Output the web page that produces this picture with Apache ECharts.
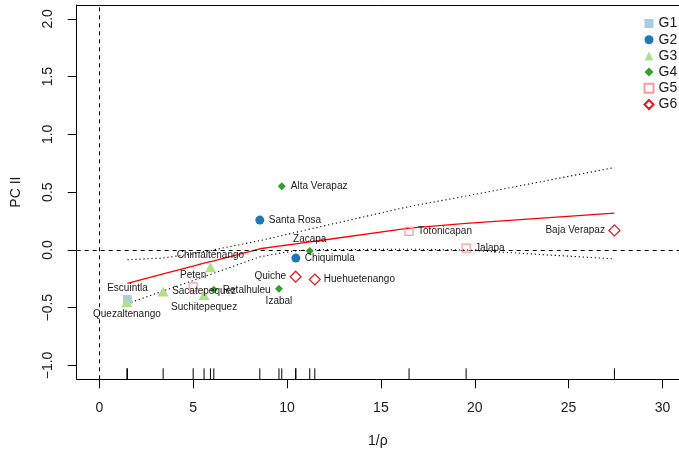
<!DOCTYPE html>
<html>
<head>
<meta charset="utf-8">
<script src="https://cdn.jsdelivr.net/npm/echarts@6/dist/echarts.min.js"></script>
<style>
  html, body { margin: 0; padding: 0; background: #fff; }
  #chart { width: 679px; height: 455px; }
</style>
</head>
<body>
<div id="chart"></div>
<script>
// Departments, their 1/rho and PC II scores, group membership and label side
const departments = ['Escuintla', 'Quezaltenango', 'Sacatepequez', 'Peten', 'Suchitepequez',
  'Chimaltenango', 'Retalhuleu', 'Santa Rosa', 'Izabal', 'Alta Verapaz', 'Chiquimula',
  'Quiche', 'Zacapa', 'Huehuetenango', 'Totonicapan', 'Jalapa', 'Baja Verapaz'];
const invRho = [1.50, 1.47, 3.40, 5.00, 5.58, 5.92, 6.10, 8.55, 9.57, 9.72, 10.47,
  10.46, 11.21, 11.48, 16.50, 19.54, 27.44];
const pc2 = [-0.43, -0.45, -0.36, -0.32, -0.39, -0.15, -0.345, 0.258, -0.337, 0.551, -0.071,
  -0.232, -0.010, -0.256, 0.160, 0.016, 0.169];
const groupOf = ['G1', 'G3', 'G3', 'G5', 'G3', 'G3', 'G4', 'G2', 'G4', 'G4', 'G2',
  'G6', 'G4', 'G6', 'G5', 'G5', 'G6'];
const labelSide = ['top', 'bottom', 'right', 'top', 'bottom', 'top', 'right', 'right', 'bottom',
  'right', 'right', 'left', 'top', 'right', 'right', 'right', 'left'];
const groupNames = ['G1', 'G2', 'G3', 'G4', 'G5', 'G6'];

// Smoothed trend and its upper / lower band, read at the distinct 1/rho values
const fitX = [1.5, 3.4, 5.0, 5.58, 5.92, 6.1, 8.55, 9.57, 9.72, 10.47, 11.21, 11.48, 16.5, 19.54, 27.44];
const fitY = [-0.290, -0.208, -0.140, -0.115, -0.101, -0.094, 0.010, 0.033, 0.036, 0.053, 0.069, 0.075, 0.188, 0.229, 0.319];
const upperY = [-0.085, -0.070, -0.034, -0.015, -0.005, 0.001, 0.080, 0.119, 0.124, 0.152, 0.180, 0.190, 0.375, 0.466, 0.713];
const lowerY = [-0.465, -0.355, -0.265, -0.230, -0.212, -0.202, -0.060, -0.030, -0.026, -0.008, 0.000, 0.002, 0.006, -0.001, -0.078];

const xTicks = [0, 5, 10, 15, 20, 25, 30];
const yTicks = [-1.0, -0.5, 0.0, 0.5, 1.0, 1.5, 2.0];

const FONT = '"Liberation Sans", Arial, Helvetica, sans-serif';
const X_MIN = -1.204, X_MAX = 30.88, Y_MIN = -1.12, Y_MAX = 2.12;

const groupStyle = {
  G1: { symbol: 'rect', size: 9, color: '#A6CEE3', filled: true },
  G2: { symbol: 'circle', size: 9, color: '#1F78B4', filled: true },
  G3: { symbol: 'triangle', size: [11, 10], color: '#B2DF8A', filled: true },
  G4: { symbol: 'diamond', size: 8, color: '#33A02C', filled: true },
  G5: { symbol: 'rect', size: 8, color: '#FB9A99', filled: false },
  G6: { symbol: 'diamond', size: 11, color: '#E31A1C', filled: false }
};

function labelFor(side) {
  const offsets = { top: [0, -11.5], bottom: [0, 12.5], left: [-9.5, 0], right: [9, 0] };
  return {
    show: true,
    position: 'inside',
    align: side === 'left' ? 'right' : (side === 'right' ? 'left' : 'center'),
    verticalAlign: 'middle',
    offset: offsets[side],
    formatter: '{b}',
    color: '#1a1a1a',
    fontSize: 10,
    fontFamily: FONT
  };
}

const pointSeries = groupNames.map(g => {
  const st = groupStyle[g];
  const data = [];
  departments.forEach((name, i) => {
    if (groupOf[i] === g) {
      data.push({ name: name, value: [invRho[i], pc2[i]], label: labelFor(labelSide[i]) });
    }
  });
  return {
    name: g,
    type: 'scatter',
    symbol: st.symbol,
    symbolSize: st.size,
    itemStyle: st.filled
      ? { color: st.color, opacity: 1 }
      : { color: 'rgba(255,255,255,0)', borderColor: st.color, borderWidth: 1.2, opacity: 1 },
    data: data,
    z: 5,
    silent: true
  };
});

const fmtY = v => (v < 0 ? '\u2212' : '') + Math.abs(v).toFixed(1);

const option = {
  animation: false,
  backgroundColor: '#fff',
  grid: { left: 76.7, right: 0, top: 5, bottom: 75.7 },
  legend: {
    orient: 'vertical',
    left: 638.5,
    top: 11.5,
    itemWidth: 9,
    itemHeight: 9,
    itemGap: 2.2,
    textStyle: { fontSize: 14, fontFamily: FONT, color: '#1a1a1a' },
    data: groupNames,
    selectedMode: false
  },
  xAxis: [{
    type: 'value', min: X_MIN, max: X_MAX, position: 'bottom',
    axisLine: { show: true, onZero: false, lineStyle: { color: '#000', width: 1 } },
    axisTick: { show: true, length: 9, customValues: xTicks, lineStyle: { color: '#000', width: 1 } },
    axisLabel: { customValues: xTicks, margin: 22, fontSize: 14, fontFamily: FONT, color: '#1a1a1a' },
    splitLine: { show: false },
    name: '1/\u03c1', nameLocation: 'middle', nameGap: 55,
    nameTextStyle: { fontSize: 14, fontFamily: FONT, color: '#1a1a1a' }
  }, {
    type: 'value', min: X_MIN, max: X_MAX, position: 'top',
    axisLine: { show: true, onZero: false, lineStyle: { color: '#000', width: 1 } },
    axisTick: { show: false }, axisLabel: { show: false }, splitLine: { show: false }
  }],
  yAxis: {
    type: 'value', min: Y_MIN, max: Y_MAX,
    axisLine: { show: true, onZero: false, lineStyle: { color: '#000', width: 1 } },
    axisTick: { show: true, length: 9, customValues: yTicks, lineStyle: { color: '#000', width: 1 } },
    axisLabel: { customValues: yTicks, rotate: 90, margin: 22, fontSize: 14, fontFamily: FONT,
      color: '#1a1a1a', formatter: fmtY },
    splitLine: { show: false },
    name: 'PC II', nameLocation: 'middle', nameGap: 54, nameRotate: 90,
    nameTextStyle: { fontSize: 14, fontFamily: FONT, color: '#1a1a1a' }
  },
  series: [
    {
      name: 'fit', type: 'line', symbol: 'none', silent: true, z: 3,
      data: fitX.map((x, i) => [x, fitY[i]]),
      lineStyle: { color: '#FF0000', width: 1.3 },
      markLine: {
        silent: true, symbol: 'none', label: { show: false },
        lineStyle: { color: '#000', type: [4, 4], width: 1 },
        data: [{ xAxis: 0 }, { yAxis: 0 }]
      }
    },
    {
      name: 'upper', type: 'line', symbol: 'none', silent: true, z: 3,
      data: fitX.map((x, i) => [x, upperY[i]]),
      lineStyle: { color: '#000', width: 1.1, type: [1.2, 2.8] }
    },
    {
      name: 'lower', type: 'line', symbol: 'none', silent: true, z: 3,
      data: fitX.map((x, i) => [x, lowerY[i]]),
      lineStyle: { color: '#000', width: 1.1, type: [1.2, 2.8] }
    },
    {
      name: 'rug', type: 'custom', silent: true, z: 4,
      data: invRho.map(v => [v]),
      renderItem: (params, api) => {
        const p = api.coord([api.value(0), Y_MIN]);
        return {
          type: 'line',
          shape: { x1: p[0], y1: p[1], x2: p[0], y2: p[1] - 11 },
          style: { stroke: '#000', lineWidth: 1 }
        };
      }
    }
  ].concat(pointSeries)
};

const chart = echarts.init(document.getElementById('chart'), null, { renderer: 'canvas' });
chart.setOption(option);
</script>
</body>
</html>
